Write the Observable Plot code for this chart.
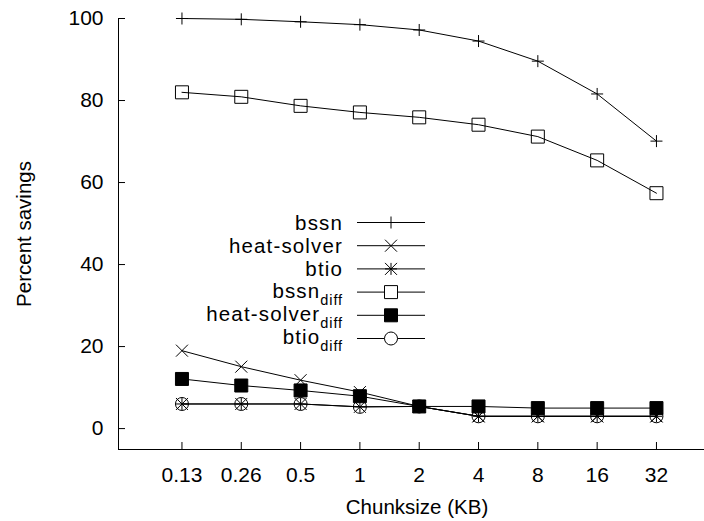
<!DOCTYPE html>
<html><head><meta charset="utf-8">
<script src="https://cdn.jsdelivr.net/npm/d3@7"></script>
<script src="https://cdn.jsdelivr.net/npm/@observablehq/plot@0.6"></script>
<style>html,body{margin:0;padding:0;background:#fff} svg{display:block}</style>
</head><body><div id="chart"></div>
<script>
// ---- data ----
const chunkLabels = ["0.13", "0.26", "0.5", "1", "2", "4", "8", "16", "32"];
const yTicks = [0, 20, 40, 60, 80, 100];
const bssn           = [100, 99.8, 99.2, 98.5, 97.2, 94.5, 89.6, 81.6, 70.1];
const heatSolver     = [19.0, 15.1, 11.8, 8.9, 5.4, 3.0, 3.0, 3.0, 3.0];
const btio           = [6.0, 6.0, 6.0, 5.3, 5.4, 3.0, 3.0, 3.0, 3.0];
const bssnDiff       = [82.0, 80.9, 78.7, 77.1, 75.9, 74.1, 71.2, 65.4, 57.4];
const heatSolverDiff = [12.1, 10.5, 9.3, 7.9, 5.4, 5.4, 5.0, 5.0, 5.0];
const btioDiff       = [6.0, 6.0, 6.0, 5.3, 5.4, 3.0, 3.0, 3.0, 3.0];
const seriesNames = ["bssn", "heat-solver", "btio", "bssn", "heat-solver", "btio"];
const seriesSubs  = ["", "", "", "diff", "diff", "diff"];
const seriesValues = [bssn, heatSolver, btio, bssnDiff, heatSolverDiff, btioDiff];

// ---- symbols (gnuplot style point types) ----
const plusSym  = {draw(c) { const h = 6; c.moveTo(-h, 0); c.lineTo(h, 0); c.moveTo(0, -h); c.lineTo(0, h); }};
const timesSym = {draw(c) { const h = 6; c.moveTo(-h, -h); c.lineTo(h, h); c.moveTo(-h, h); c.lineTo(h, -h); }};
const starSym  = {draw(c) { plusSym.draw(c); timesSym.draw(c); }};
const squareSym = {draw(c) { const h = 6.5; c.rect(-h, -h, 2 * h, 2 * h); }};
const circleSym = {draw(c) { const r = 6.5; c.moveTo(r, 0); c.arc(0, 0, r, 0, 2 * Math.PI); }};
const styles = [
  {symbol: plusSym, fill: "none", legendFill: "none"},
  {symbol: timesSym, fill: "none", legendFill: "none"},
  {symbol: starSym, fill: "none", legendFill: "none"},
  {symbol: squareSym, fill: "none", legendFill: "white"},
  {symbol: squareSym, fill: "black", legendFill: "black"},
  {symbol: circleSym, fill: "none", legendFill: "white"}
];

const rows = seriesValues.map((vals, s) => vals.map((v, i) => ({s, i, v})));

const font = "'Liberation Sans', Arial, Helvetica, sans-serif";
const xDomain = [-1.07, 8.81];
const yDomain = [-5.1, 100];

// legend drawn with the same symbols
function legend(index, scales, values, dimensions) {
  const g = d3.create("svg:g").attr("font-family", font).attr("fill", "black");
  const top = 222.5, step = 23.2, textX = 343, x1 = 357, x2 = 425, xm = 391;
  seriesNames.forEach((name, s) => {
    const y = top + s * step;
    const t = g.append("text").attr("x", textX).attr("y", y + (seriesSubs[s] ? 5.5 : 7.5))
      .attr("text-anchor", "end").attr("font-size", 20.5).attr("letter-spacing", "1.15px");
    t.append("tspan").text(name);
    if (seriesSubs[s]) t.append("tspan").attr("font-size", 14.5).attr("letter-spacing", "0.9px").attr("dy", 7).text(seriesSubs[s]);
    g.append("line").attr("x1", x1).attr("x2", x2).attr("y1", y).attr("y2", y)
      .attr("stroke", "black").attr("stroke-width", 1);
    const st = styles[s];
    g.append("path").attr("d", d3.symbol(st.symbol)())
      .attr("transform", `translate(${xm},${y})`)
      .attr("fill", st.legendFill)
      .attr("stroke", "black").attr("stroke-width", 1);
  });
  return g.node();
}

const marks = [
  Plot.ruleX([xDomain[0]], {stroke: "black", strokeWidth: 1}),
  Plot.ruleY([yDomain[0]], {stroke: "black", strokeWidth: 1}),
  Plot.axisY(yTicks, {anchor: "left", tickSize: -7, tickPadding: 22, fontSize: 21, label: null}),
  Plot.axisX(d3.range(chunkLabels.length), {anchor: "bottom", tickSize: -7, tickPadding: 25, fontSize: 21,
    tickFormat: i => chunkLabels[i], label: null}),
  Plot.text(["Percent savings"], {frameAnchor: "left", textAnchor: "middle", lineAnchor: "middle", rotate: -90, dx: -94,
    fontSize: 20.5, fill: "black", letterSpacing: "1.1px"}),
  Plot.text(["Chunksize (KB)"], {frameAnchor: "bottom", textAnchor: "middle", lineAnchor: "middle", dx: 5.5, dy: 57.5,
    fontSize: 20.5, fill: "black", letterSpacing: "1.1px"})
];
rows.forEach((data, s) => {
  marks.push(Plot.line(data, {x: "i", y: "v", stroke: "black", strokeWidth: 1}));
});
rows.forEach((data, s) => {
  marks.push(Plot.dot(data, {x: "i", y: "v", symbol: styles[s].symbol, fill: styles[s].fill,
    stroke: "black", strokeWidth: 1}));
});
marks.push(legend);

const chart = Plot.plot({
  width: 704,
  height: 521,
  marginLeft: 118,
  marginRight: 0,
  marginTop: 18,
  marginBottom: 72,
  style: {fontFamily: font, fontSize: "20px", background: "white", color: "black", overflow: "visible"},
  x: {type: "linear", domain: xDomain, axis: null},
  y: {type: "linear", domain: yDomain, axis: null},
  marks
});
document.getElementById("chart").append(chart);
</script>
</body></html>
